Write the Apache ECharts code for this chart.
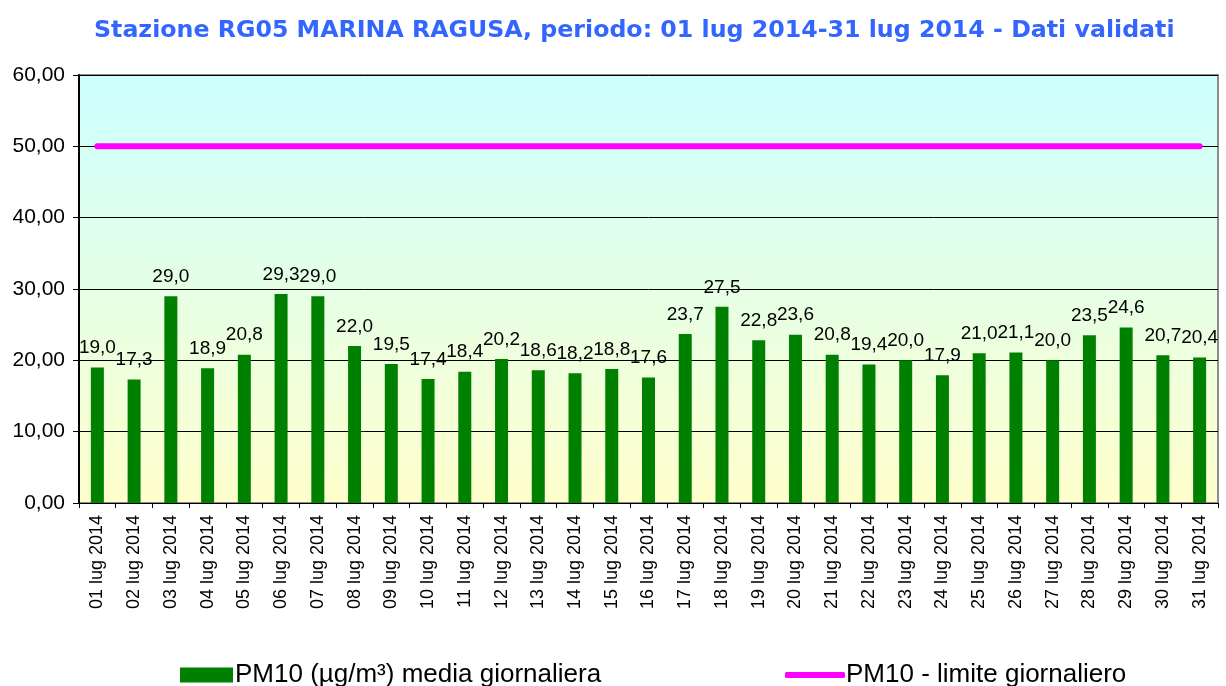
<!DOCTYPE html>
<html>
<head>
<meta charset="utf-8">
<script src="https://cdn.jsdelivr.net/npm/echarts@6/dist/echarts.min.js"></script>
<style>
  html, body { margin: 0; padding: 0; background: #fff; }
  #chart { width: 1226px; height: 686px; }
</style>
</head>
<body>
<div id="chart"></div>
<script>
const days = [
  '01 lug 2014', '02 lug 2014', '03 lug 2014', '04 lug 2014', '05 lug 2014', '06 lug 2014',
  '07 lug 2014', '08 lug 2014', '09 lug 2014', '10 lug 2014', '11 lug 2014', '12 lug 2014',
  '13 lug 2014', '14 lug 2014', '15 lug 2014', '16 lug 2014', '17 lug 2014', '18 lug 2014',
  '19 lug 2014', '20 lug 2014', '21 lug 2014', '22 lug 2014', '23 lug 2014', '24 lug 2014',
  '25 lug 2014', '26 lug 2014', '27 lug 2014', '28 lug 2014', '29 lug 2014', '30 lug 2014',
  '31 lug 2014'
]
const pm10 = [
  19.0, 17.3, 29.0, 18.9, 20.8, 29.3, 29.0, 22.0, 19.5, 17.4, 18.4, 20.2, 18.6, 18.2, 18.8, 17.6,
  23.7, 27.5, 22.8, 23.6, 20.8, 19.4, 20.0, 17.9, 21.0, 21.1, 20.0, 23.5, 24.6, 20.7, 20.4
]
const limite = days.map(() => 50)

const fmt = (v, d) => v.toFixed(d).replace('.', ',')

const chart = echarts.init(document.getElementById('chart'))
chart.setOption({
  animation: false,
  textStyle: { fontFamily: 'Liberation Sans, Arial, sans-serif', color: '#000' },
  title: {
    text: 'Stazione RG05 MARINA RAGUSA, periodo: 01 lug 2014-31 lug 2014 - Dati validati',
    left: 89,
    top: 14,
    textStyle: {
      fontFamily: 'DejaVu Sans, Verdana, sans-serif',
      fontWeight: 'bold',
      fontSize: 23.7,
      color: '#3366ff',
    },
  },
  grid: {
    left: 79,
    right: 8,
    top: 75,
    bottom: 183,
    show: true,
    borderColor: '#8c8c8c',
    borderWidth: 2,
    backgroundColor: new echarts.graphic.LinearGradient(0, 0, 0, 1, [
      { offset: 0, color: '#ccffff' },
      { offset: 1, color: '#ffffcc' },
    ]),
  },
  legend: [
    {
      data: [{ name: 'PM10 (µg/m³) media giornaliera', icon: 'rect' }],
      left: 175,
      bottom: -7,
      itemWidth: 53,
      itemHeight: 15,
      itemGap: 4,
      textStyle: { fontSize: 26, color: '#000', padding: [0, 0, 0, -3] },
    },
    {
      data: [{ name: 'PM10 - limite giornaliero', icon: 'roundRect' }],
      left: 780,
      bottom: -7,
      itemWidth: 60,
      itemHeight: 6,
      textStyle: { fontSize: 26, color: '#000', padding: [0, 0, 0, -4] },
    },
  ],
  xAxis: {
    type: 'category',
    data: days,
    axisLine: { lineStyle: { color: '#000', width: 1 } },
    axisTick: { show: true, length: 5, lineStyle: { color: '#000' } },
    axisLabel: { rotate: 90, fontSize: 18, color: '#000', margin: 12 },
  },
  yAxis: {
    type: 'value',
    min: 0,
    max: 60,
    interval: 10,
    axisLine: { show: true, lineStyle: { color: '#000', width: 2 } },
    axisTick: { show: true, length: 6, lineStyle: { color: '#000' } },
    axisLabel: { fontSize: 21, color: '#000', margin: 14, formatter: (v) => fmt(v, 2) },
    splitLine: { lineStyle: { color: '#000', width: 1 } },
  },
  series: [
    {
      name: 'PM10 (µg/m³) media giornaliera',
      type: 'bar',
      data: pm10,
      barWidth: 13,
      itemStyle: { color: '#008000' },
      label: {
        show: true,
        position: 'top',
        distance: 10,
        fontSize: 19,
        color: '#000',
        formatter: (p) => fmt(p.value, 1),
      },
    },
    {
      name: 'PM10 - limite giornaliero',
      type: 'line',
      data: limite,
      symbol: 'none',
      lineStyle: { color: '#ff00ff', width: 6, cap: 'round' },
      itemStyle: { color: '#ff00ff' },
    },
  ],
})
</script>
</body>
</html>
